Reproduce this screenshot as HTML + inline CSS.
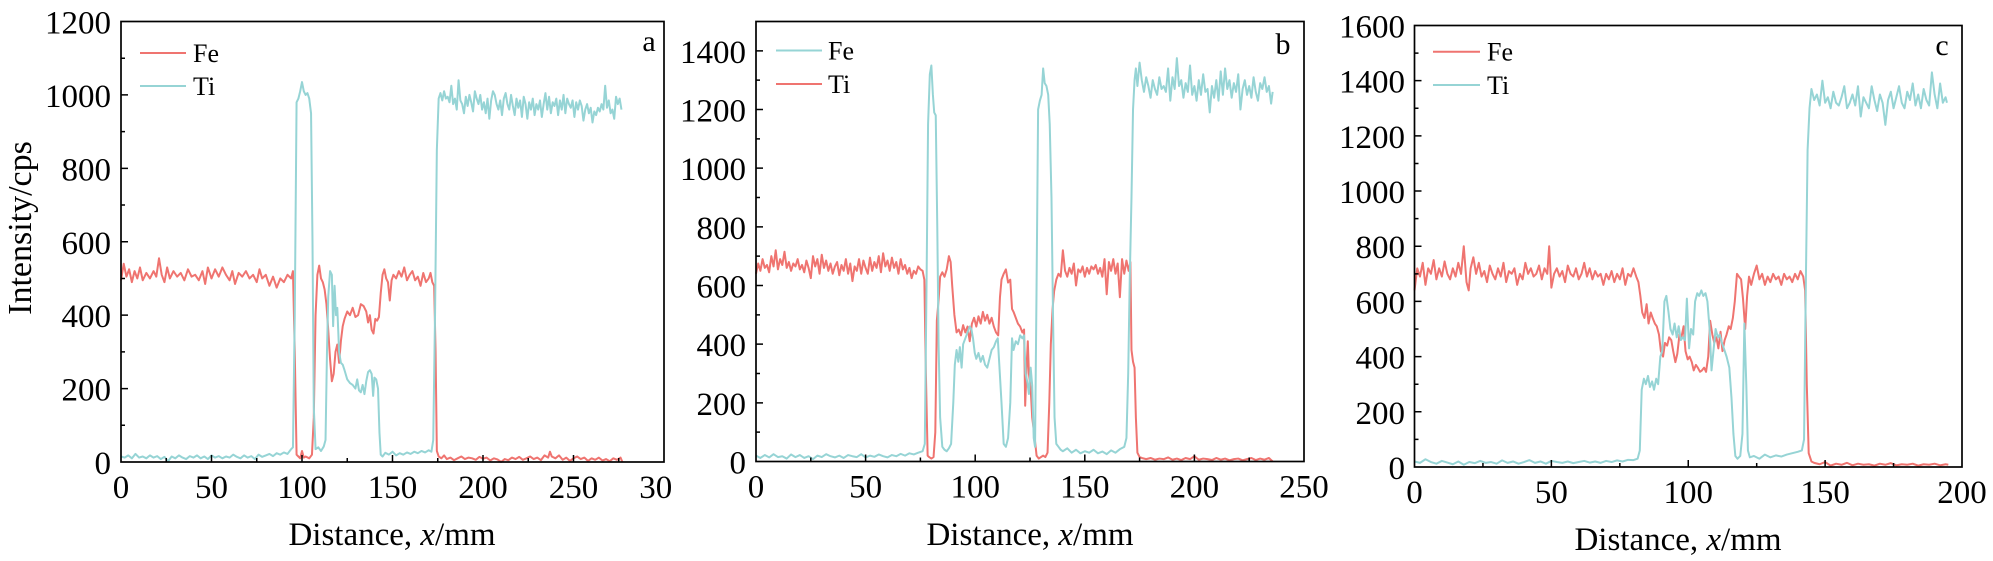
<!DOCTYPE html>
<html>
<head>
<meta charset="utf-8">
<style>
  html,body{margin:0;padding:0;background:#fff;}
  svg{display:block;}
  text{font-family:"Liberation Serif","Times New Roman",serif;fill:#000;}
  .tl{font-size:33px;}
  .lg{font-size:26px;}
  .ti{font-size:33px;}
  .fe{fill:none;stroke:#ef7470;stroke-width:2;stroke-linejoin:round;}
  .cy{fill:none;stroke:#96d4d5;stroke-width:2;stroke-linejoin:round;}
  .ax{fill:none;stroke:#000;stroke-width:1.7;}
  .tk{stroke:#000;stroke-width:1.5;}
</style>
</head>
<body>
<svg width="1993" height="561" viewBox="0 0 1993 561" xmlns="http://www.w3.org/2000/svg">
<rect x="0" y="0" width="1993" height="561" fill="#fff"/>

<!-- ================= PANEL A ================= -->
<g transform="translate(121,462) scale(1.81,-0.36708)">
<polyline class="fe" vector-effect="non-scaling-stroke" points="0,495 1.5,540 3,505 4.5,525 6,490 7.5,520 9,500 10.5,530 12,495 14,515 16,500 18,520 19.5,505 21,555 22.5,510 24,490 25.5,530 27,500 29,520 31,505 33,515 35,495 37,525 39,505 41,510 43,495 45,520 46.5,485 48,530 50,500 52,525 54,505 56,530 58,510 60,495 61.5,520 63,485 65,515 67,505 69,520 71,500 73,510 75,490 76.5,525 78,500 80,510 82,480 84,505 86,475 88,500 90,490 92,510 94,500 95,520 96,300 97,20 98,15 99,10 100,30 101,12 102,15 104,10 105.5,20 106.5,120 107.5,400 108.5,510 109.5,535 110.5,500 111.5,490 112.5,470 113.5,430 114.5,360 115.5,280 116.5,220 117.5,240 118.5,300 119.5,320 120.5,270 121.5,330 122.5,370 123.5,390 125,410 126.5,400 128,420 129.5,395 131,400 132.5,430 134,425 135.5,410 136.5,380 137.5,400 138.5,360 139.5,350 140.5,390 141.5,385 142.5,395 143.5,460 144.5,510 145.5,525 146.5,500 147.5,490 148.5,440 149.5,495 150.5,510 152,500 153.5,520 155,505 156.5,530 158,495 159.5,510 161,520 162.5,495 164,505 165.5,480 167,515 168.5,490 170,500 171,515 172,490 173,480 173.8,300 174.5,30 175.5,15 177,10 178.5,18 180,8 182,12 184,5 186,10 188,15 190,8 192,12 194,10 196,6 198,14 200,9 202,12 204,4 206,10 208,7 210,0 212,8 214,5 216,12 218,8 220,14 222,6 224,10 226,15 228,8 230,12 232,5 234,18 236,12 237,28 238,15 240,10 242,18 244,6 246,12 248,3 250,10 252,15 254,8 256,12 258,3 260,10 262,6 264,12 266,4 268,8 270,2 272,10 274,6 276,12 277,0"/>
<polyline class="cy" vector-effect="non-scaling-stroke" points="0,15 2,12 4,18 6,10 8,22 10,12 12,15 14,10 16,18 18,12 20,16 22,8 24,14 26,2 28,15 30,10 32,18 34,12 36,8 38,16 40,12 42,18 44,10 46,15 48,8 50,18 52,12 54,16 56,10 58,15 60,12 62,20 64,14 66,10 68,18 70,12 72,16 74,8 76,20 78,14 80,18 82,22 84,16 86,24 88,20 90,26 92,22 94,35 95,40 96,400 97,980 98,990 99,1010 100,1035 101,1010 102,1000 103,1005 104,990 105,950 105.8,600 106.5,150 107.5,35 109,40 110.5,30 112,42 113,60 113.8,300 114.5,450 115.5,520 116.5,510 117.2,370 118,480 118.8,400 119.5,420 120.5,300 121.5,270 122.5,265 123.5,250 125,225 126.5,215 128,210 129.5,200 130.5,225 131.5,195 132.5,190 133.5,210 134.5,185 135.5,220 136.5,245 137.5,250 138.5,240 139.3,180 140,230 141,225 142,200 142.8,80 143.5,20 144.5,15 146,25 148,20 150,28 152,18 154,24 156,20 158,26 160,22 162,28 164,24 166,30 168,26 170,32 171.5,28 172.5,60 173.5,400 174.5,850 175.5,990 176.5,1005 177.5,985 178.5,1010 179.5,990 180.5,995 181.5,980 182.5,1025 183.5,975 184.5,990 185.5,960 186.5,1040 187.5,985 188.5,975 189.5,950 190.5,995 191.5,970 192.5,1000 193.5,980 194.5,955 195.5,1010 196.5,990 197.5,975 198.5,1000 199.5,960 200.5,980 201.5,950 202.5,990 203.5,935 204.5,985 205.5,1010 206.5,1000 207.5,975 208.5,960 209.5,985 210.5,945 211.5,990 212.5,1005 213.5,975 214.5,960 215.5,1000 216.5,970 217.5,945 218.5,990 219.5,965 220.5,985 221.5,940 222.5,995 223.5,975 224.5,935 225.5,980 226.5,960 227.5,990 228.5,945 229.5,975 230.5,960 231.5,985 232.5,940 233.5,975 234.5,1005 235.5,960 236.5,995 237.5,950 238.5,980 239.5,970 240.5,990 241.5,945 242.5,985 243.5,960 244.5,1000 245.5,950 246.5,990 247.5,975 248.5,965 249.5,985 250.5,940 251.5,980 252.5,960 253.5,985 254.5,970 255.5,930 256.5,960 257.5,975 258.5,950 259.5,965 260.5,925 261.5,955 262.5,945 263.5,965 264.5,955 265.5,975 266.5,960 267.5,1025 268.5,965 269.5,985 270.5,950 271.5,960 272.5,935 273.5,995 274.5,975 275.5,990 276.5,960"/>
</g>
<!-- ticks a -->
<g transform="translate(121,462) scale(1.81,1)">
<path class="tk" vector-effect="non-scaling-stroke" d="M50,0V-7M100,0V-7M150,0V-7M200,0V-7M250,0V-7M25,0V-4M75,0V-4M125,0V-4M175,0V-4M225,0V-4M275,0V-4"/>
</g>
<g transform="translate(121,462) scale(1,-0.36708)">
<path class="tk" vector-effect="non-scaling-stroke" d="M0,200H7M0,400H7M0,600H7M0,800H7M0,1000H7M0,100H4M0,300H4M0,500H4M0,700H4M0,900H4M0,1100H4"/>
</g>
<rect class="ax" x="121" y="21.5" width="543" height="440.5"/>
<g class="tl" text-anchor="end">
<text x="111" y="474">0</text>
<text x="111" y="400.6">200</text>
<text x="111" y="327.2">400</text>
<text x="111" y="253.8">600</text>
<text x="111" y="180.3">800</text>
<text x="111" y="106.9">1000</text>
<text x="111" y="33.5">1200</text>
</g>
<g class="tl" text-anchor="middle">
<text x="121" y="498">0</text>
<text x="211.5" y="498">50</text>
<text x="302" y="498">100</text>
<text x="392.5" y="498">150</text>
<text x="483" y="498">200</text>
<text x="573.5" y="498">250</text>
<text x="664" y="498">300</text>
</g>
<text class="ti" x="392" y="545" text-anchor="middle">Distance, <tspan font-style="italic">x</tspan>/mm</text>
<text class="ti" transform="translate(31,228) rotate(-90)" text-anchor="middle" style="font-size:34px">Intensity/cps</text>
<text x="649" y="51" text-anchor="middle" style="font-size:30px">a</text>
<line x1="140" y1="53" x2="186" y2="53" class="fe"/>
<line x1="140" y1="86" x2="186" y2="86" class="cy"/>
<text class="lg" x="193" y="62">Fe</text>
<text class="lg" x="193" y="95">Ti</text>

<!-- white cover (cuts "300") -->
<rect x="673" y="470" width="60" height="40" fill="#fff"/>

<!-- ================= PANEL B ================= -->
<g transform="translate(756,461.5) scale(2.192,-0.29333)">
<polyline class="fe" vector-effect="non-scaling-stroke" points="0,640 1,675 2,650 3,690 4,660 5,670 6,645 7,700 8,665 9,720 10,655 11,690 12,670 13,715 14,660 15,680 16,650 17,675 18,665 19,690 20,655 21,670 22,645 23,685 24,660 25,625 26,700 27,665 28,690 29,640 30,705 31,660 32,685 33,650 34,675 35,640 36,665 37,680 38,635 39,670 40,650 41,690 42,640 43,675 44,615 45,665 46,650 47,690 48,640 49,685 50,660 51,640 52,695 53,650 54,680 55,660 56,700 57,645 58,710 59,665 60,685 61,650 62,695 63,660 64,680 65,640 66,690 67,655 68,670 69,640 70,660 71,625 72,650 73,640 74,665 75,655 76,650 76.8,620 77.5,300 78.3,20 79,15 80,10 81,15 81.8,100 82.5,480 83.3,550 84,630 85,645 86,630 87,655 88,700 88.8,680 89.5,600 90.5,500 91.5,440 92.5,450 93.5,430 94.5,465 95.5,440 96.5,460 97.5,410 98.5,470 99.5,490 100.5,460 101.5,495 102.5,470 103.5,510 104.5,480 105.5,500 106.5,470 107.5,490 108.5,460 109.5,440 110.5,430 111.3,560 112,620 113,640 114,655 115,610 116,620 116.8,520 117.5,510 118.5,490 119.5,470 120.5,460 121.5,440 122.3,450 122.8,190 123.5,330 124,410 124.5,300 125.3,250 126,150 127,90 128,20 129,10 130,15 131,20 132,15 133,30 133.8,200 134.5,400 135.3,520 136,580 137,620 138,640 139,630 140,720 141,650 142,630 143,660 144,640 145,675 146,600 147,655 148,645 149,665 150,630 151,660 152,640 153,665 154,655 155,670 156,640 157,660 158,630 159,690 160,570 161,680 162,650 163,690 164,640 165,675 166,560 167,690 168,640 169,685 170,650 170.8,680 171.3,380 172,340 172.7,320 173.3,150 174,30 175,15 176,12 178,8 180,12 182,6 184,10 186,8 188,14 190,6 192,10 194,5 196,12 198,8 200,18 202,6 204,10 206,8 208,5 210,12 212,6 214,10 216,4 218,8 220,10 222,4 224,8 226,12 228,5 230,10 232,6 234,12 235.7,0"/>
<polyline class="cy" vector-effect="non-scaling-stroke" points="0,20 2,12 4,22 6,14 8,25 10,15 12,18 14,10 16,24 18,15 20,22 22,12 24,18 26,8 28,20 30,15 32,25 34,18 36,14 38,20 40,12 42,22 44,18 46,15 48,25 50,14 52,20 54,16 56,24 58,18 60,14 62,22 64,18 66,26 68,20 70,28 72,24 74,30 76,35 77,60 77.8,600 78.5,1150 79.3,1320 80,1350 80.7,1250 81.3,1190 82,1180 82.7,800 83.3,400 84,150 85,50 86,40 87,35 88,45 89,60 90,200 90.7,330 91.5,380 92.3,340 93,390 93.8,320 94.5,400 95.5,420 96.5,440 97.5,460 98.3,450 99,420 99.8,370 100.5,350 101.5,370 102.5,340 103.5,360 104.5,330 105.5,320 106.5,350 107.5,380 108.5,390 109.5,410 110.3,420 111,330 112,200 113,60 114,50 115,80 116,200 116.8,420 117.5,380 118.5,410 119.5,400 120.5,430 121.5,420 122.3,430 123,300 123.8,270 124.5,230 125.3,320 126,260 126.7,80 127.3,50 128,600 128.7,1200 129.5,1230 130.3,1250 131,1340 131.7,1290 132.5,1280 133.3,1250 134,1150 134.8,900 135.5,500 136.2,150 137,60 138,50 139,40 140,35 142,45 144,30 146,40 148,28 150,35 152,30 154,40 156,28 158,34 160,25 162,38 164,30 166,42 168,50 169,80 169.8,300 170.5,620 171.3,900 172,1200 172.7,1300 173.3,1340 174,1280 175,1360 176,1300 177,1260 178,1310 179,1280 180,1240 181,1300 182,1270 183,1250 184,1310 185,1270 186,1280 187,1260 188,1340 189,1230 190,1310 191,1270 192,1375 193,1280 194,1300 195,1240 196,1290 197,1260 198,1350 199,1250 200,1280 201,1230 202,1300 203,1250 204,1320 205,1260 206,1270 207,1190 208,1280 209,1240 210,1300 211,1230 212,1330 213,1250 214,1340 215,1270 216,1300 217,1240 218,1290 219,1260 220,1320 221,1200 222,1270 223,1300 224,1250 225,1280 226,1240 227,1310 228,1260 229,1230 230,1290 231,1270 232,1310 233,1260 234,1280 235,1220 235.7,1260"/>
</g>
<g transform="translate(756,461.5) scale(2.192,1)">
<path class="tk" vector-effect="non-scaling-stroke" d="M50,0V-7M100,0V-7M150,0V-7M200,0V-7M25,0V-4M75,0V-4M125,0V-4M175,0V-4M225,0V-4"/>
</g>
<g transform="translate(756,461.5) scale(1,-0.29333)">
<path class="tk" vector-effect="non-scaling-stroke" d="M0,200H7M0,400H7M0,600H7M0,800H7M0,1000H7M0,1200H7M0,1400H7M0,100H4M0,300H4M0,500H4M0,700H4M0,900H4M0,1100H4M0,1300H4"/>
</g>
<rect class="ax" x="756" y="21.5" width="548" height="440"/>
<g class="tl" text-anchor="end">
<text x="746" y="473.5">0</text>
<text x="746" y="414.8">200</text>
<text x="746" y="356.2">400</text>
<text x="746" y="297.5">600</text>
<text x="746" y="238.8">800</text>
<text x="746" y="180.2">1000</text>
<text x="746" y="121.5">1200</text>
<text x="746" y="62.8">1400</text>
</g>
<g class="tl" text-anchor="middle">
<text x="756" y="497.5">0</text>
<text x="865.6" y="497.5">50</text>
<text x="975.2" y="497.5">100</text>
<text x="1084.8" y="497.5">150</text>
<text x="1194.4" y="497.5">200</text>
<text x="1304" y="497.5">250</text>
</g>
<text class="ti" x="1030" y="545" text-anchor="middle">Distance, <tspan font-style="italic">x</tspan>/mm</text>
<text x="1283" y="54" text-anchor="middle" style="font-size:30px">b</text>
<line x1="776" y1="50.5" x2="822" y2="50.5" class="cy"/>
<line x1="776" y1="84" x2="822" y2="84" class="fe"/>
<text class="lg" x="828" y="59.5">Fe</text>
<text class="lg" x="828" y="93">Ti</text>

<!-- ================= PANEL C ================= -->
<g transform="translate(1414.5,467) scale(2.7375,-0.27594)">
<polyline class="fe" vector-effect="non-scaling-stroke" points="0,640 1,720 2,690 3,740 4,660 5,720 6,700 7,750 8,680 9,720 10,690 11,745 12,700 13,680 14,720 15,690 16,740 17,700 18,800 19,670 19.8,640 20.5,720 21.5,760 22.5,700 23.5,740 24.5,690 25.5,710 26.5,670 27.5,730 28.5,700 29.5,680 30.5,720 31.5,690 32.5,740 33.5,670 34.5,710 35.5,700 36.5,720 37.5,660 38.5,700 39.5,680 40.5,740 41.5,700 42.5,720 43.5,690 44.5,700 45.5,730 46.5,680 47.5,720 48.5,700 49.2,800 50,650 51,700 52,720 53,690 54,710 55,670 56,730 57,700 58,690 59,720 60,680 61,700 62,740 63,690 64,720 65,680 66,710 67,690 68,700 69,660 70,700 71,680 72,710 73,670 74,700 75,680 76,720 77,660 78,700 79,690 80,720 81,690 81.8,670 82.5,620 83.2,560 84,540 84.8,590 85.5,520 86.3,560 87,540 87.8,520 88.5,510 89.3,480 90,420 90.8,400 91.5,450 92.3,440 93,470 93.8,460 94.5,420 95.3,380 96,410 96.8,480 97.5,470 98.3,510 99,420 99.8,390 100.5,400 101.3,380 102,350 102.8,370 103.5,360 104.3,345 105,350 105.8,360 106.5,345 107.3,400 108,530 108.8,480 109.5,450 110.3,470 111,430 111.8,490 112.5,420 113.3,460 114,480 114.8,510 115.5,500 116.3,540 117,600 117.8,700 118.5,690 119.3,680 120,610 120.8,500 121.5,620 122.2,690 123,660 124,700 125,730 126,680 127,700 128,660 129,690 130,670 131,700 132,680 133,690 134,660 135,700 136,680 137,690 138,670 139,700 140,680 141,710 142,690 142.7,640 143.3,300 144,50 145,20 146,15 148,10 150,18 152,5 154,12 156,8 158,15 160,6 162,12 164,8 166,10 168,5 170,12 172,8 174,14 176,6 178,10 180,8 182,12 184,5 186,10 188,8 190,12 192,6 194,10 195,8"/>
<polyline class="cy" vector-effect="non-scaling-stroke" points="0,20 2,15 4,28 6,18 8,12 10,22 12,16 14,10 16,20 18,8 20,18 22,14 24,22 26,15 28,18 30,12 32,24 34,15 36,20 38,12 40,18 42,25 44,15 46,20 48,12 50,22 52,18 54,15 56,20 58,14 60,18 62,22 64,16 66,20 68,15 70,22 72,18 74,24 76,20 78,26 80,25 81.5,30 82.3,60 83,280 83.8,320 84.5,300 85.3,330 86,290 86.8,310 87.5,280 88.3,320 89,300 89.8,400 90.5,420 91.3,600 92,620 92.8,560 93.5,500 94.3,480 95,520 95.8,470 96.5,510 97.3,460 98,470 98.8,460 99.5,610 100.3,430 101,500 101.8,480 102.5,600 103.3,630 104,620 104.8,640 105.5,620 106.3,630 107,600 107.8,500 108.5,350 109.3,430 110,500 110.8,470 111.5,480 112.3,450 113,430 114,400 115,360 115.8,250 116.5,120 117.2,40 118,30 119,40 119.8,120 120.5,520 121.2,300 121.8,60 122.5,35 124,40 126,30 128,45 130,35 132,42 134,38 136,45 138,50 140,55 141.5,60 142.3,100 143,700 143.6,1150 144.3,1300 145,1370 146,1330 147,1350 148,1310 149,1400 150,1320 151,1340 152,1300 153,1360 154,1320 155,1310 156,1340 157,1380 158,1300 159,1320 160,1350 161,1310 162,1380 163,1270 164,1340 165,1320 166,1300 167,1380 168,1330 169,1290 170,1350 171,1320 172,1240 173,1330 174,1360 175,1300 176,1340 177,1380 178,1320 179,1300 180,1360 181,1330 182,1390 183,1310 184,1350 185,1300 186,1370 187,1330 188,1310 189,1430 190,1350 191,1300 192,1390 193,1320 194,1340 194.5,1320"/>
</g>
<g transform="translate(1414.5,467) scale(2.7375,1)">
<path class="tk" vector-effect="non-scaling-stroke" d="M50,0V-7M100,0V-7M150,0V-7M25,0V-4M75,0V-4M125,0V-4M175,0V-4"/>
</g>
<g transform="translate(1414.5,467) scale(1,-0.27594)">
<path class="tk" vector-effect="non-scaling-stroke" d="M0,200H7M0,400H7M0,600H7M0,800H7M0,1000H7M0,1200H7M0,1400H7M0,100H4M0,300H4M0,500H4M0,700H4M0,900H4M0,1100H4M0,1300H4M0,1500H4"/>
</g>
<rect class="ax" x="1414.5" y="25.5" width="547.5" height="441.5"/>
<g class="tl" text-anchor="end">
<text x="1405" y="479">0</text>
<text x="1405" y="423.8">200</text>
<text x="1405" y="368.6">400</text>
<text x="1405" y="313.4">600</text>
<text x="1405" y="258.2">800</text>
<text x="1405" y="203.1">1000</text>
<text x="1405" y="147.9">1200</text>
<text x="1405" y="92.7">1400</text>
<text x="1405" y="37.5">1600</text>
</g>
<g class="tl" text-anchor="middle">
<text x="1414.5" y="503">0</text>
<text x="1551.4" y="503">50</text>
<text x="1688.3" y="503">100</text>
<text x="1825.1" y="503">150</text>
<text x="1962" y="503">200</text>
</g>
<text class="ti" x="1678" y="550" text-anchor="middle">Distance, <tspan font-style="italic">x</tspan>/mm</text>
<text x="1942" y="55" text-anchor="middle" style="font-size:30px">c</text>
<line x1="1433" y1="51.7" x2="1480" y2="51.7" class="fe"/>
<line x1="1433" y1="85" x2="1480" y2="85" class="cy"/>
<text class="lg" x="1487" y="60.5">Fe</text>
<text class="lg" x="1487" y="94">Ti</text>
</svg>
</body>
</html>
